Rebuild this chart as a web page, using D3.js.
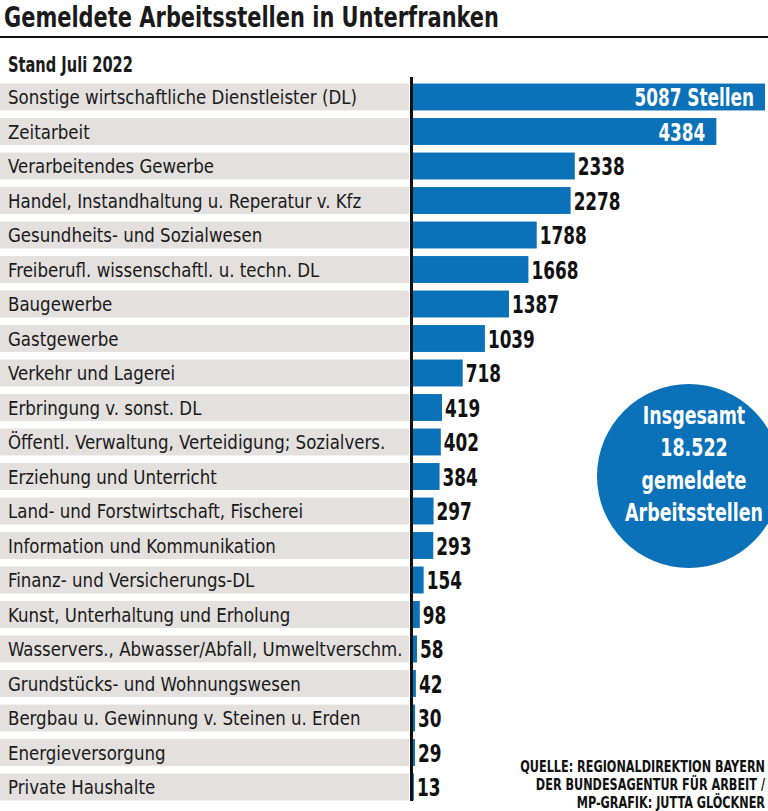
<!DOCTYPE html>
<html><head><meta charset="utf-8">
<script src="https://cdn.jsdelivr.net/npm/d3@7"></script>
<style>
body{margin:0;background:#fff;}
svg{display:block;}
text{font-family:"DejaVu Sans Condensed","DejaVu Sans",sans-serif;}
</style></head>
<body><svg id="c" width="768" height="811"></svg>
<script>
const categories = [
 "Sonstige wirtschaftliche Dienstleister (DL)",
 "Zeitarbeit",
 "Verarbeitendes Gewerbe",
 "Handel, Instandhaltung u. Reperatur v. Kfz",
 "Gesundheits- und Sozialwesen",
 "Freiberufl. wissenschaftl. u. techn. DL",
 "Baugewerbe",
 "Gastgewerbe",
 "Verkehr und Lagerei",
 "Erbringung v. sonst. DL",
 "Öffentl. Verwaltung, Verteidigung; Sozialvers.",
 "Erziehung und Unterricht",
 "Land- und Forstwirtschaft, Fischerei",
 "Information und Kommunikation",
 "Finanz- und Versicherungs-DL",
 "Kunst, Unterhaltung und Erholung",
 "Wasservers., Abwasser/Abfall, Umweltverschm.",
 "Grundstücks- und Wohnungswesen",
 "Bergbau u. Gewinnung v. Steinen u. Erden",
 "Energieversorgung",
 "Private Haushalte"
];
const values = [5087,4384,2338,2278,1788,1668,1387,1039,718,419,402,384,297,293,154,98,58,42,30,29,13];
const title = "Gemeldete Arbeitsstellen in Unterfranken";
const subtitle = "Stand Juli 2022";
const circleLines = ["Insgesamt","18.522","gemeldete","Arbeitsstellen"];
const sourceLines = ["QUELLE: REGIONALDIREKTION BAYERN","DER BUNDESAGENTUR FÜR ARBEIT /","MP-GRAFIK: JUTTA GLÖCKNER"];

const blue = "#0b71b9";
const svg = d3.select("#c");

// horizontally condense text around its anchor x
function squeeze(sel, f){
  sel.each(function(){
    const x = +this.getAttribute("x");
    this.setAttribute("transform", `translate(${x},0) scale(${f},1) translate(${-x},0)`);
  });
}
function widthOf(sel){ return sel.node().getComputedTextLength(); }

const t = svg.append("text").attr("x",4).attr("y",27).attr("font-size",28).attr("font-weight","bold").attr("fill","#1a1a1a").text(title);
squeeze(t, 495/widthOf(t));
svg.append("rect").attr("x",0).attr("y",36).attr("width",768).attr("height",2).attr("fill","#111");
const st = svg.append("text").attr("x",8).attr("y",72).attr("font-size",22).attr("font-weight","bold").attr("fill","#1a1a1a").text(subtitle);
squeeze(st, 125/widthOf(st));

const y = d3.scaleBand().domain(categories).range([79.75, 804.25]).paddingInner(0.22).paddingOuter(0.11);
const x = d3.scaleLinear().domain([0, 5087]).range([413, 765]);

const g = svg.append("g");
g.selectAll("rect.bg").data(categories).join("rect").attr("class","bg")
 .attr("x",0).attr("y",d=>y(d)).attr("width",409).attr("height",y.bandwidth()).attr("fill","#e4e0dd");
const labs = g.selectAll("text.lab").data(categories).join("text").attr("class","lab")
 .attr("x",8).attr("y",d=>y(d)+y.bandwidth()/2).attr("dy","0.36em")
 .attr("font-size",20).attr("fill","#1a1a1a").text(d=>d);
squeeze(labs, 349/labs.node().getComputedTextLength());

g.selectAll("rect.bar").data(values).join("rect").attr("class","bar")
 .attr("x",x(0)).attr("y",(d,i)=>y(categories[i])).attr("width",d=>x(d)-x(0)).attr("height",y.bandwidth()).attr("fill",blue);

const vals = g.selectAll("text.val").data(values).join("text").attr("class","val")
 .attr("x",(d,i)=> i<2 ? x(d)-11 : x(d)+3)
 .attr("y",(d,i)=>y(categories[i])+y.bandwidth()/2).attr("dy","0.37em")
 .attr("text-anchor",(d,i)=> i<2 ? "end":"start")
 .attr("font-size",25).attr("font-weight","bold")
 .attr("fill",(d,i)=> i<2 ? "#fff" : "#111")
 .text((d,i)=> i===0 ? d+" Stellen" : d);
squeeze(vals, 47/vals.filter((d,i)=>i===2).node().getComputedTextLength());

svg.append("line").attr("x1",411.5).attr("x2",411.5).attr("y1",77).attr("y2",801).attr("stroke","#111").attr("stroke-width",3);

svg.append("circle").attr("cx",689).attr("cy",476).attr("r",92).attr("fill",blue);
const circ = svg.selectAll("text.circ").data(circleLines).join("text").attr("class","circ")
 .attr("x",694).attr("y",(d,i)=>415+i*32.5).attr("dy","0.36em").attr("text-anchor","middle")
 .attr("font-size",24).attr("font-weight","bold").attr("fill","#fff").text(d=>d);
squeeze(circ, 138/circ.filter((d,i)=>i===3).node().getComputedTextLength());

const src = svg.selectAll("text.src").data(sourceLines).join("text").attr("class","src")
 .attr("x",765).attr("y",(d,i)=>767+i*18).attr("dy","0.36em").attr("text-anchor","end")
 .attr("font-size",15).attr("font-weight","bold").attr("fill","#111").text(d=>d);
squeeze(src, 245/src.node().getComputedTextLength());
</script></body></html>
